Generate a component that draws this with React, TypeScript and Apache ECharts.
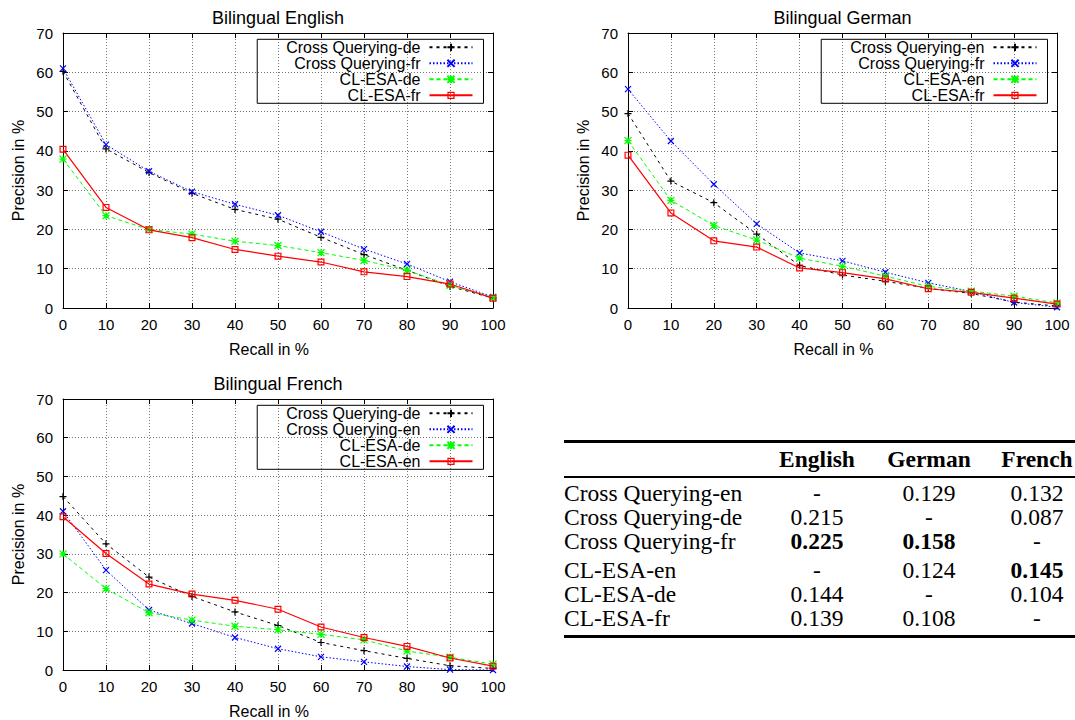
import React, { useEffect, useRef } from "react";
import * as echarts from "echarts";

// ---- data ----
const recall = [0, 10, 20, 30, 40, 50, 60, 70, 80, 90, 100];

const engCrossDe = [60.2, 40.5, 34.5, 29.2, 25.1, 22.6, 18.0, 13.6, 9.6, 5.5, 2.5];
const engCrossFr = [61.0, 41.6, 34.8, 29.6, 26.4, 23.6, 19.4, 15.0, 11.2, 6.7, 2.8];
const engEsaDe = [37.9, 23.5, 20.0, 18.8, 17.0, 15.9, 14.1, 12.1, 9.6, 5.8, 2.6];
const engEsaFr = [40.4, 25.6, 19.9, 17.9, 14.9, 13.2, 11.7, 9.2, 8.0, 6.1, 2.5];

const gerCrossEn = [49.5, 32.3, 26.8, 18.8, 10.8, 8.4, 6.8, 5.0, 3.7, 1.5, 0.5];
const gerCrossFr = [55.7, 42.5, 31.5, 21.4, 14.0, 12.0, 9.1, 6.4, 4.2, 1.4, 0.2];
const gerEsaEn = [42.6, 27.4, 21.0, 17.3, 12.7, 10.6, 8.1, 5.5, 4.3, 3.0, 1.3];
const gerEsaFr = [38.9, 24.2, 17.1, 15.5, 10.2, 9.0, 7.4, 4.9, 4.0, 2.5, 1.0];

const freCrossDe = [44.8, 32.6, 24.0, 19.0, 15.0, 11.5, 7.1, 5.0, 3.0, 1.1, 0.4];
const freCrossEn = [41.0, 25.8, 15.5, 12.0, 8.4, 5.5, 3.4, 2.1, 0.9, 0.1, 0.0];
const freEsaDe = [30.0, 21.0, 14.8, 12.9, 11.3, 10.4, 9.2, 7.8, 4.9, 3.3, 1.5];
const freEsaEn = [39.6, 30.1, 22.2, 19.6, 18.0, 15.7, 11.1, 8.4, 6.1, 3.1, 1.0];

const panelTitles = ["Bilingual English", "Bilingual German", "Bilingual French"];
const engLabels = ["Cross Querying-de", "Cross Querying-fr", "CL-ESA-de", "CL-ESA-fr"];
const gerLabels = ["Cross Querying-en", "Cross Querying-fr", "CL-ESA-en", "CL-ESA-fr"];
const freLabels = ["Cross Querying-de", "Cross Querying-en", "CL-ESA-de", "CL-ESA-en"];

const tableHeaders = ["English", "German", "French"];
const tableRowLabels = [
  "Cross Querying-en",
  "Cross Querying-de",
  "Cross Querying-fr",
  "CL-ESA-en",
  "CL-ESA-de",
  "CL-ESA-fr",
];
const tableEnglish = ["-", "0.215", "0.225", "-", "0.144", "0.139"];
const tableGerman = ["0.129", "-", "0.158", "0.124", "-", "0.108"];
const tableFrench = ["0.132", "0.087", "-", "0.145", "0.104", "-"];

// ---- styles ----
const SANS = "Liberation Sans, Arial, Helvetica, sans-serif";
const SERIF = "Liberation Serif, Times New Roman, serif";

const SYM_PLUS = "path://M0 5L10 5M5 0L5 10";
const SYM_X = "path://M0 0L10 10M10 0L0 10";
const SYM_STAR = "path://M0 0L10 10M10 0L0 10M5 0L5 10M0 5L10 5";
const SYM_SQUARE = "path://M0 0L10 0L10 10L0 10Z M1.7 1.7L1.7 8.3L8.3 8.3L8.3 1.7Z";

const styles = [
  { color: "#000000", dash: [3, 4] as any, symbol: SYM_PLUS, size: 7, width: 1, stroke: true },
  { color: "#0000ff", dash: [1.5, 2] as any, symbol: SYM_X, size: 6, width: 1, stroke: true },
  { color: "#00ff00", dash: [4, 3] as any, symbol: SYM_STAR, size: 7, width: 1, stroke: true },
  { color: "#ff0000", dash: "solid" as any, symbol: SYM_SQUARE, size: 7, width: 1.2, stroke: false },
];

const grids = [
  { left: 63, top: 33, width: 430, height: 275 },
  { left: 628, top: 33, width: 429, height: 275 },
  { left: 63, top: 399, width: 430, height: 274 },
];

function buildOption() {
  const panels = [
    { key: "E", labels: engLabels, values: [engCrossDe, engCrossFr, engEsaDe, engEsaFr] },
    { key: "G", labels: gerLabels, values: [gerCrossEn, gerCrossFr, gerEsaEn, gerEsaFr] },
    { key: "F", labels: freLabels, values: [freCrossDe, freCrossEn, freEsaDe, freEsaEn] },
  ];

  const xAxis: any[] = [];
  const yAxis: any[] = [];
  const series: any[] = [];
  const legend: any[] = [];
  const title: any[] = [];

  panels.forEach((p, gi) => {
    const g = grids[gi];
    xAxis.push({
      type: "value",
      gridIndex: gi,
      min: 0,
      max: 100,
      interval: 10,
      position: "bottom",
      name: "Recall in %",
      nameLocation: "middle",
      nameGap: 33,
      nameTextStyle: { fontSize: 16, color: "#000", fontFamily: SANS, padding: [0, 18, 0, 0] },
      axisLine: { show: true, onZero: false, lineStyle: { color: "#000", width: 1 } },
      axisTick: { show: true, inside: true, length: 5, lineStyle: { color: "#000" } },
      axisLabel: { fontSize: 15, color: "#000", fontFamily: SANS, margin: 9 },
      splitLine: { show: true, lineStyle: { color: "#777", type: [1, 2], width: 1 } },
    });
    xAxis.push({
      type: "value",
      gridIndex: gi,
      min: 0,
      max: 100,
      interval: 10,
      position: "top",
      axisLine: { show: true, onZero: false, lineStyle: { color: "#000", width: 1 } },
      axisTick: { show: true, inside: true, length: 5, lineStyle: { color: "#000" } },
      axisLabel: { show: false },
      splitLine: { show: false },
    });
    yAxis.push({
      type: "value",
      gridIndex: gi,
      min: 0,
      max: 70,
      interval: 10,
      position: "left",
      name: "Precision in %",
      nameLocation: "middle",
      nameGap: 37,
      nameTextStyle: { fontSize: 16, color: "#000", fontFamily: SANS },
      axisLine: { show: true, onZero: false, lineStyle: { color: "#000", width: 1 } },
      axisTick: { show: true, inside: true, length: 5, lineStyle: { color: "#000" } },
      axisLabel: { fontSize: 15, color: "#000", fontFamily: SANS, margin: 10 },
      splitLine: { show: true, lineStyle: { color: "#777", type: [1, 2], width: 1 } },
    });
    yAxis.push({
      type: "value",
      gridIndex: gi,
      min: 0,
      max: 70,
      interval: 10,
      position: "right",
      axisLine: { show: true, onZero: false, lineStyle: { color: "#000", width: 1 } },
      axisTick: { show: true, inside: true, length: 5, lineStyle: { color: "#000" } },
      axisLabel: { show: false },
      splitLine: { show: false },
    });

    const names: string[] = [];
    p.labels.forEach((label, si) => {
      const st = styles[si];
      const name = p.key + "|" + label;
      names.push(name);
      series.push({
        type: "line",
        name,
        xAxisIndex: gi * 2,
        yAxisIndex: gi * 2,
        data: recall.map((r, i) => [r, p.values[si][i]]),
        symbol: st.symbol,
        symbolSize: st.size,
        showSymbol: true,
        showAllSymbol: true,
        clip: false,
        lineStyle: { color: st.color, width: st.width, type: st.dash },
        itemStyle: st.stroke
          ? { color: st.color, borderColor: st.color, borderWidth: 1.2 }
          : { color: st.color, borderWidth: 0 },
        emphasis: { disabled: true },
        z: 2 + si,
      });
    });

    legend.push({
      data: names,
      orient: "vertical",
      align: "right",
      right: 1075 - (g.left + g.width - 9.5),
      top: g.top + 6.3,
      itemWidth: 43,
      itemHeight: 9,
      itemGap: 0,
      padding: [0, 10, 0, 29],
      borderColor: "#000",
      borderWidth: 1,
      selectedMode: false,
      formatter: (n: string) => n.split("|")[1],
      textStyle: { fontSize: 16, color: "#000", fontFamily: SANS, lineHeight: 16, padding: [0, 4, 0, 0] },
    });

    title.push({
      text: panelTitles[gi],
      left: g.left + g.width / 2,
      top: g.top - 24,
      textAlign: "center",
      padding: 0,
      textStyle: { fontSize: 18, fontWeight: "normal", color: "#000", fontFamily: SANS },
    });
  });

  // ---- table (graphic) ----
  const graphic: any[] = [];
  const tableLeft = 564;
  const ruleWidth = 560;
  const colCenters = [817, 929, 1037];
  const topRuleY = 440;
  const headerY = 459;
  const midRuleY = 476;
  const rowY0 = 493;
  const rowPitch = 24.2;
  const groupGap = 4;
  const bottomRuleY = 635;
  const FS = 23.5;

  graphic.push({ type: "rect", shape: { x: tableLeft, y: topRuleY, width: ruleWidth, height: 3 }, style: { fill: "#000" } });
  graphic.push({ type: "rect", shape: { x: tableLeft, y: midRuleY, width: ruleWidth, height: 2 }, style: { fill: "#000" } });
  graphic.push({ type: "rect", shape: { x: tableLeft, y: bottomRuleY, width: ruleWidth, height: 3 }, style: { fill: "#000" } });

  tableHeaders.forEach((h, ci) => {
    graphic.push({
      type: "text",
      style: {
        text: h,
        x: colCenters[ci],
        y: headerY,
        align: "center",
        verticalAlign: "middle",
        fontSize: FS,
        fontWeight: "bold",
        fontFamily: SERIF,
        fill: "#000",
      },
    });
  });

  const cols = [tableEnglish, tableGerman, tableFrench];
  const colMax = cols.map((c) => Math.max(...c.filter((v) => v !== "-").map((v) => parseFloat(v))));

  tableRowLabels.forEach((label, ri) => {
    const y = rowY0 + ri * rowPitch + (ri >= 3 ? groupGap : 0);
    graphic.push({
      type: "text",
      style: {
        text: label,
        x: tableLeft,
        y,
        align: "left",
        verticalAlign: "middle",
        fontSize: FS,
        fontFamily: SERIF,
        fill: "#000",
      },
    });
    cols.forEach((c, ci) => {
      const v = c[ri];
      const bold = v !== "-" && parseFloat(v) === colMax[ci];
      graphic.push({
        type: "text",
        style: {
          text: v,
          x: colCenters[ci],
          y,
          align: "center",
          verticalAlign: "middle",
          fontSize: FS,
          fontWeight: bold ? "bold" : "normal",
          fontFamily: SERIF,
          fill: "#000",
        },
      });
    });
  });

  return {
    animation: false,
    backgroundColor: "#fff",
    title,
    legend,
    grid: grids.map((g) => ({ ...g, show: false, containLabel: false })),
    xAxis,
    yAxis,
    series,
    graphic,
  };
}

export default function App() {
  const ref = useRef<HTMLDivElement>(null);
  useEffect(() => {
    if (!ref.current) return;
    const chart = echarts.init(ref.current, undefined, { renderer: "svg" });
    chart.setOption(buildOption() as any);
    return () => chart.dispose();
  }, []);
  return (
    <div
      ref={ref}
      style={{ position: "absolute", left: 0, top: 0, width: 1075, height: 720, background: "#fff" }}
    />
  );
}
